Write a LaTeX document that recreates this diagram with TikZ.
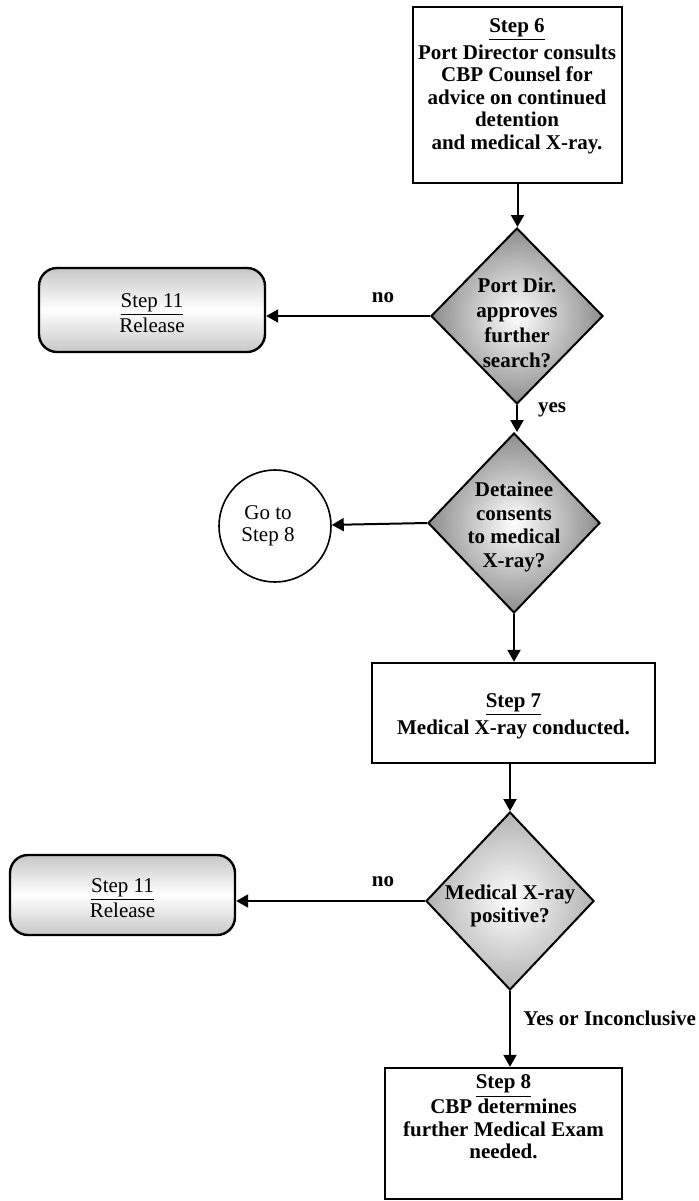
\documentclass[tikz,border=0pt]{standalone}
\usepackage{fontspec}
\setmainfont{Liberation Serif}
\usetikzlibrary{shapes.geometric,arrows.meta,calc}
\begin{document}
\begin{tikzpicture}[x=0.5pt,y=-0.5pt,
  every node/.style={font=\fontsize{10.5}{11.2}\selectfont\bfseries},
  stepbox/.style={draw, line width=1.2pt, rectangle, inner sep=0pt},
  decision/.style={draw, line width=1pt, diamond, inner sep=0pt,
    inner color=white, outer color=black!45},
  lightdecision/.style={decision, outer color=black!30},
  releasebox/.style={draw, line width=1.2pt, rectangle, rounded corners=9pt,
    inner sep=0pt, top color=black!22, bottom color=black!22, middle color=white},
  gotocircle/.style={draw, line width=0.8pt, circle, inner sep=0pt},
  txt/.style={align=center, inner sep=0pt},
  plain/.style={txt, font=\fontsize{10.5}{11.2}\selectfont},
  flow/.style={line width=1pt, -{Triangle[length=6pt,width=6.5pt]}},
  lbl/.style={inner sep=0pt}
]
\useasboundingbox (0,0) rectangle (699,1201);

% shapes
\node[stepbox, minimum width=104.5pt, minimum height=88pt] (s6) at (517.5,95) {};
\node[decision, minimum width=86pt, minimum height=88pt] (d1) at (517,316) {};
\node[releasebox, minimum width=113pt, minimum height=42pt] (r1) at (152,310) {};
\node[decision, minimum width=86pt, minimum height=90pt] (d2) at (514,523) {};
\node[gotocircle, minimum size=56pt] (c1) at (275,526) {};
\node[stepbox, minimum width=141.5pt, minimum height=50pt] (s7) at (513.5,713) {};
\node[lightdecision, minimum width=84pt, minimum height=89pt] (d3) at (510,901) {};
\node[releasebox, minimum width=112.5pt, minimum height=40pt] (r2) at (122.5,895) {};
\node[stepbox, minimum width=118.5pt, minimum height=65.5pt] (s8) at (503.5,1133.5) {};

% texts
\node[txt] (s6t) at (517,86) {\underline{Step 6}\\[1pt]Port Director consults\\CBP Counsel for\\advice on continued\\detention\\and medical X-ray.};
\node[txt, font=\fontsize{10.5}{12.4}\selectfont\bfseries] (d1t) at (517,323) {Port Dir.\\approves\\further\\search?};
\node[plain] (r1t) at (152,313) {\underline{Step 11}\\Release};
\node[txt, font=\fontsize{10.5}{11.8}\selectfont\bfseries] (d2t) at (514,527) {Detainee\\consents\\to medical\\X-ray?};
\node[plain] (c1t) at (268,526) {Go to\\Step 8};
\node[txt] (s7t) at (513.5,716) {\underline{Step 7}\\[1pt]Medical X-ray conducted.};
\node[txt] (d3t) at (510,906) {Medical X-ray\\positive?};
\node[plain] (r2t) at (122.5,898) {\underline{Step 11}\\Release};
\node[txt] (s8t) at (503.5,1117) {\underline{Step 8}\\CBP determines\\further Medical Exam\\needed.};

% branch labels
\node[lbl] (no1) at (383,298) {no};
\node[lbl] (yes1) at (552,410) {yes};
\node[lbl] (no2) at (383,882) {no};
\node[lbl, anchor=west] (yes2) at (523,1018) {Yes or Inconclusive};

% connectors
\draw[flow] (s6.south) -- (s6.south |- d1.north);
\draw[flow] (d1.west) -- (d1.west -| r1.east);
\draw[flow] (d1.south) -- (d1.south |- d2.north);
\draw[flow] (d2.west) -- (c1);
\draw[flow] (d2.south) -- (d2.south |- s7.north);
\draw[flow] (s7.south -| d3.north) -- (d3.north);
\draw[flow] (d3.west) -- (d3.west -| r2.east);
\draw[flow] (d3.south) -- (d3.south |- s8.north);
\end{tikzpicture}
\end{document}
